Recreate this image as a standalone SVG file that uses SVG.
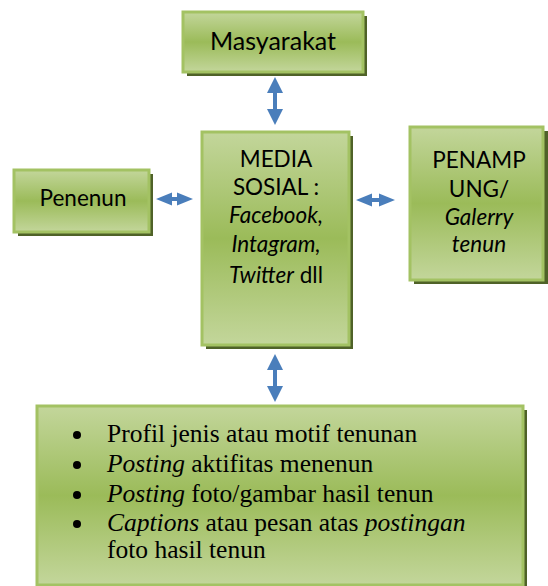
<svg xmlns="http://www.w3.org/2000/svg" width="548" height="586" viewBox="0 0 548 586">
<defs>
<linearGradient id="g" x1="0" y1="0" x2="0" y2="1">
<stop offset="0" stop-color="#c3d69b"/>
<stop offset="0.5" stop-color="#9bbb59"/>
<stop offset="1" stop-color="#c3d69b"/>
</linearGradient>
<style>
.box{fill:url(#g);stroke:#a3c263;stroke-width:3}
.sh{fill:#4f6228}
.t{font-family:Lato,"Liberation Sans",sans-serif;fill:#000;text-anchor:middle}
.s{font-family:"Liberation Serif",serif;fill:#000;font-size:25.5px}
.arr{fill:#4a7ebb}
</style>
</defs>
<g id="masyarakat">
<rect class="sh" x="187" y="16" width="180" height="60"/>
<rect class="box" x="183" y="12" width="180" height="60"/>
<text class="t" x="273" y="50" font-size="25">Masyarakat</text>
</g>
<g id="penenun">
<rect class="sh" x="18" y="174" width="135" height="62"/>
<rect class="box" x="14" y="170" width="135" height="62"/>
<text class="t" x="83" y="206" font-size="22.5">Penenun</text>
</g>
<g id="media">
<rect class="sh" x="206" y="136" width="147" height="213"/>
<rect class="box" x="202" y="132" width="147" height="213"/>
<text class="t" font-size="22.5"><tspan x="276" y="167">MEDIA</tspan><tspan x="276" y="195">SOSIAL :</tspan><tspan x="276" y="223" font-style="italic">Facebook,</tspan><tspan x="276" y="252" font-style="italic">Intagram,</tspan><tspan x="276" y="283"><tspan font-style="italic">Twitter</tspan> dll</tspan></text>
</g>
<g id="penampung">
<rect class="sh" x="414" y="131" width="134" height="153"/>
<rect class="box" x="410" y="127" width="133" height="153"/>
<text class="t" font-size="22.5"><tspan x="479" y="168">PENAMP</tspan><tspan x="479" y="197">UNG/</tspan><tspan x="479" y="225" font-style="italic">Galerry</tspan><tspan x="479" y="252" font-style="italic">tenun</tspan></text>
</g>
<g id="konten">
<rect class="sh" x="41" y="410" width="486" height="180"/>
<rect class="box" x="37" y="406" width="486" height="179"/>
<g fill="#000"><circle cx="77" cy="435" r="4"/><circle cx="77" cy="465" r="4"/><circle cx="77" cy="495" r="4"/><circle cx="77" cy="524" r="4"/></g>
<text class="s" x="107" y="442">Profil jenis atau motif tenunan</text>
<text class="s" x="107" y="472"><tspan font-style="italic">Posting</tspan> aktifitas menenun</text>
<text class="s" x="107" y="502"><tspan font-style="italic">Posting</tspan> foto/gambar hasil tenun</text>
<text class="s" x="107" y="531"><tspan font-style="italic">Captions</tspan> atau pesan atas <tspan font-style="italic">postingan</tspan></text>
<text class="s" x="107" y="558">foto hasil tenun</text>
</g>
<g id="connectors">
<polygon class="arr" points="275,77 283,93 277,93 277,109 283,109 275,125 267,109 273,109 273,93 267,93"/>
<polygon class="arr" points="275,354 283,370 277,370 277,386 283,386 275,402 267,386 273,386 273,370 267,370"/>
<polygon class="arr" points="156,199 172,192.5 172,197 177,197 177,192.5 193,199 177,205.5 177,201 172,201 172,205.5"/>
<polygon class="arr" points="356,200 372,193.5 372,198 379,198 379,193.5 395,200 379,206.5 379,202 372,202 372,206.5"/>
</g>
</svg>
